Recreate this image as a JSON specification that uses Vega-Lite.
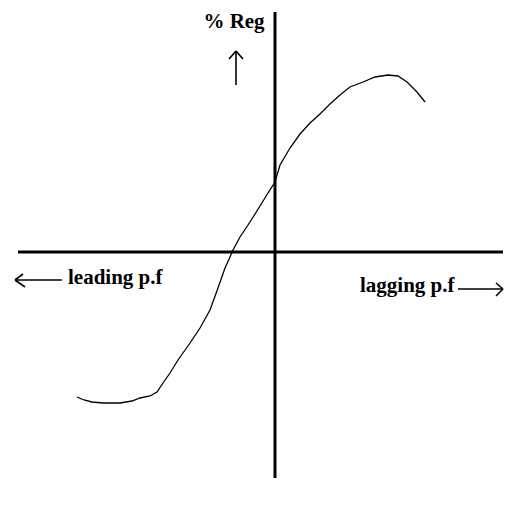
{
  "$schema": "https://vega.github.io/schema/vega-lite/v6.json",
  "width": 506,
  "height": 506,
  "padding": 0,
  "autosize": {"type": "fit", "contains": "padding"},
  "background": "white",
  "config": {"view": {"stroke": null}},
  "datasets": {
    "curve": [
      {"pf": -198, "reg": -145}, {"pf": -191, "reg": -148}, {"pf": -183, "reg": -150},
      {"pf": -172, "reg": -151}, {"pf": -155, "reg": -151}, {"pf": -143, "reg": -149},
      {"pf": -135, "reg": -146}, {"pf": -125, "reg": -144}, {"pf": -118, "reg": -140},
      {"pf": -112, "reg": -131}, {"pf": -105, "reg": -121}, {"pf": -97, "reg": -108},
      {"pf": -85, "reg": -91}, {"pf": -75, "reg": -76}, {"pf": -65, "reg": -58},
      {"pf": -57, "reg": -36}, {"pf": -50, "reg": -16}, {"pf": -45, "reg": -5},
      {"pf": -42, "reg": 2}, {"pf": -35, "reg": 15}, {"pf": -25, "reg": 30},
      {"pf": -15, "reg": 46}, {"pf": -7, "reg": 59}, {"pf": 0, "reg": 70},
      {"pf": 5, "reg": 87}, {"pf": 15, "reg": 104}, {"pf": 25, "reg": 118},
      {"pf": 35, "reg": 129}, {"pf": 45, "reg": 138}, {"pf": 55, "reg": 148},
      {"pf": 65, "reg": 157}, {"pf": 75, "reg": 165}, {"pf": 88, "reg": 170},
      {"pf": 100, "reg": 175}, {"pf": 113, "reg": 177}, {"pf": 123, "reg": 176},
      {"pf": 132, "reg": 170}, {"pf": 142, "reg": 160}, {"pf": 150, "reg": 150}
    ],
    "axes": [
      {"x": -257, "y": 0, "x2": 228, "y2": 0},
      {"x": 0, "y": 240, "x2": 0, "y2": -226}
    ],
    "arrows": [
      {"x": -39, "y": 200, "x2": -39, "y2": 167},
      {"x": -46, "y": 193, "x2": -39, "y2": 201},
      {"x": -32, "y": 193, "x2": -39, "y2": 201},
      {"x": -260, "y": -28, "x2": -213, "y2": -28},
      {"x": -260, "y": -28, "x2": -252, "y2": -22},
      {"x": -260, "y": -28, "x2": -250, "y2": -35},
      {"x": 183, "y": -37, "x2": 228, "y2": -37},
      {"x": 228, "y": -37, "x2": 221, "y2": -31},
      {"x": 228, "y": -37, "x2": 221, "y2": -44}
    ],
    "labels": [
      {"x": -41, "y": 224, "text": "% Reg", "align": "center"},
      {"x": -207, "y": -32, "text": "leading p.f", "align": "left"},
      {"x": 85, "y": -40, "text": "lagging p.f", "align": "left"}
    ]
  },
  "layer": [
    {
      "data": {"name": "axes"},
      "mark": {"type": "rule", "color": "black", "strokeWidth": 3},
      "encoding": {
        "x": {"field": "x", "type": "quantitative", "scale": {"domain": [-275, 231], "nice": false, "zero": false}, "axis": null},
        "y": {"field": "y", "type": "quantitative", "scale": {"domain": [-254, 252], "nice": false, "zero": false}, "axis": null},
        "x2": {"field": "x2"},
        "y2": {"field": "y2"}
      }
    },
    {
      "data": {"name": "arrows"},
      "mark": {"type": "rule", "color": "black", "strokeWidth": 1.6},
      "encoding": {
        "x": {"field": "x", "type": "quantitative"},
        "y": {"field": "y", "type": "quantitative"},
        "x2": {"field": "x2"},
        "y2": {"field": "y2"}
      }
    },
    {
      "data": {"name": "curve"},
      "mark": {"type": "line", "color": "black", "strokeWidth": 1.3},
      "encoding": {
        "x": {"field": "pf", "type": "quantitative"},
        "y": {"field": "reg", "type": "quantitative"},
        "order": {"field": "pf", "type": "quantitative"}
      }
    },
    {
      "data": {"name": "labels"},
      "transform": [{"filter": "datum.align == 'center'"}],
      "mark": {"type": "text", "font": "Liberation Serif", "fontWeight": "bold", "fontSize": 21, "align": "center", "baseline": "alphabetic", "color": "black"},
      "encoding": {
        "x": {"field": "x", "type": "quantitative"},
        "y": {"field": "y", "type": "quantitative"},
        "text": {"field": "text"}
      }
    },
    {
      "data": {"name": "labels"},
      "transform": [{"filter": "datum.align == 'left'"}],
      "mark": {"type": "text", "font": "Liberation Serif", "fontWeight": "bold", "fontSize": 21, "align": "left", "baseline": "alphabetic", "color": "black"},
      "encoding": {
        "x": {"field": "x", "type": "quantitative"},
        "y": {"field": "y", "type": "quantitative"},
        "text": {"field": "text"}
      }
    }
  ]
}
